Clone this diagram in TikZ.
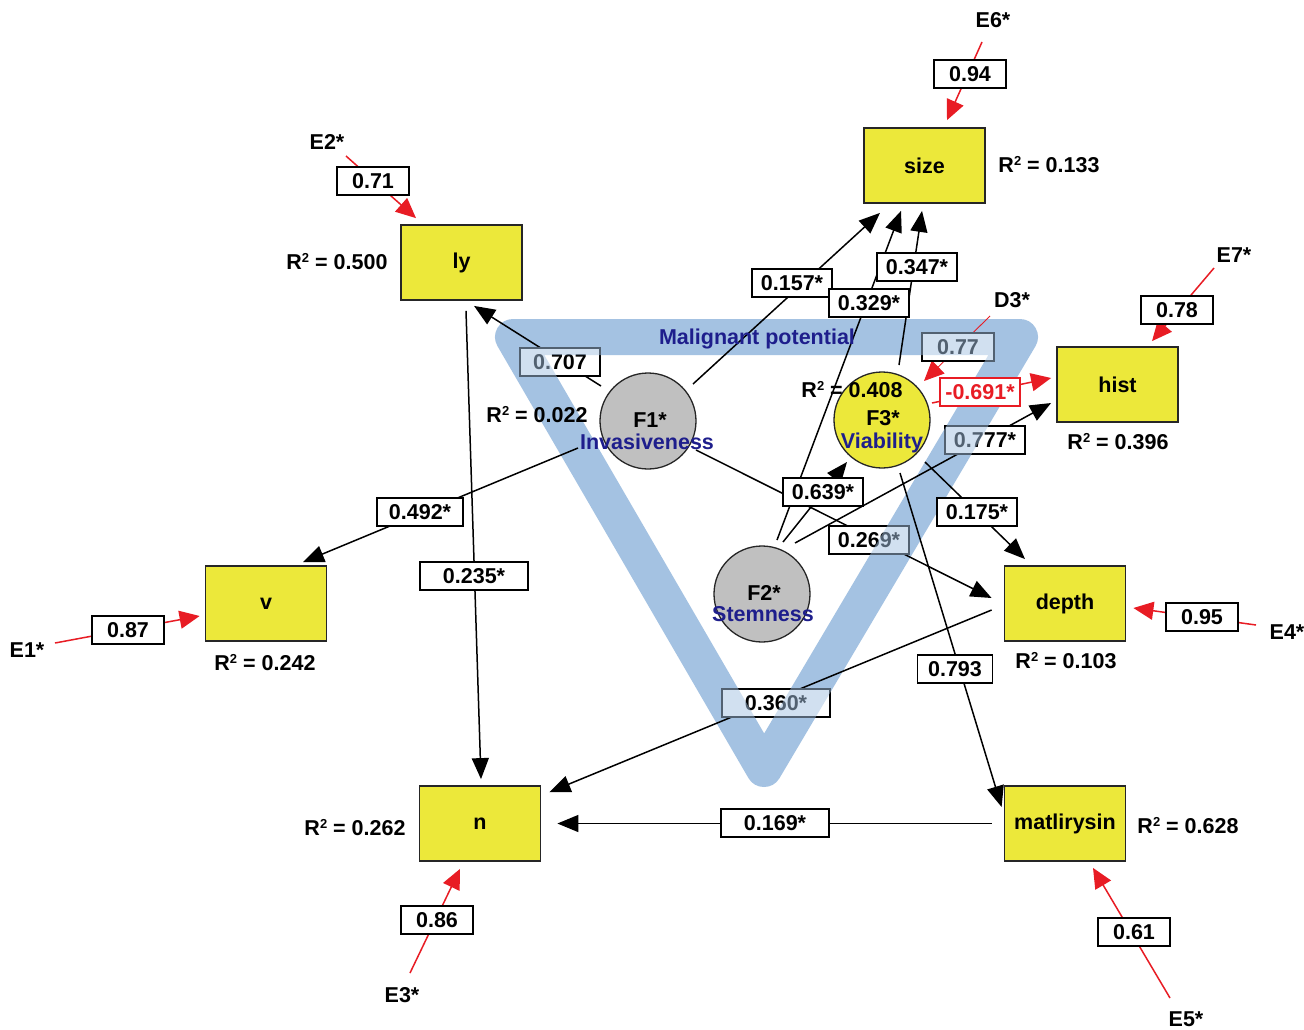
\documentclass[tikz,border=0pt]{standalone}
\usepackage{fontspec}
\setmainfont{Liberation Sans}
\usetikzlibrary{arrows.meta,calc}
\definecolor{yel}{RGB}{236,232,58}
\definecolor{bandblue}{RGB}{164,194,226}
\definecolor{navy}{RGB}{30,30,140}
\definecolor{myred}{RGB}{232,28,36}
\definecolor{circgray}{RGB}{192,192,192}
\newcommand{\rsq}{R\raisebox{7pt}{\fontsize{13}{13}\selectfont 2}}
\begin{document}
\begin{tikzpicture}[x=1pt,y=-1pt,
  every node/.style={font=\fontsize{21.5}{24}\selectfont\bfseries},
  var/.style={draw=black!85, fill=yel, line width=1.8pt, minimum width=121pt, minimum height=75pt, inner sep=0pt},
  fac/.style={circle, draw=black!85, line width=1.3pt, minimum size=96pt, inner sep=0pt},
  lbl/.style={draw, fill=white, line width=1.6pt, minimum height=28pt, minimum width=80pt, inner sep=2pt},
  lblw/.style={lbl, minimum width=108pt},
  lbls/.style={lbl, minimum width=72pt},
  lnk/.style={line width=1.5pt, -{Triangle[length=21pt,width=17pt]}},
  err/.style={myred, line width=1.5pt, -{Triangle[length=20pt,width=18pt]}},
  band/.style={draw=bandblue, line width=36pt, line join=round},
  txt/.style={inner sep=0pt}
]
\fill[white] (0,0) rectangle (1304,1029);
\useasboundingbox (0,0) rectangle (1304,1029);

% malignant potential band
\draw[band] (513,337) -- (1020,337) -- (764,769) -- cycle;

% observed variables
\node[var] (size) at (924.5,165.5) {size};
\node[var] (ly) at (461.5,262.5) {ly};
\node[var] (hist) at (1117.5,384.5) {hist};
\node[var] (v) at (266,603.5) {v};
\node[var] (depth) at (1065,603.5) {depth};
\node[var] (n) at (480,823.5) {n};
\node[var] (matl) at (1065,823.5) {matlirysin};

% factors
\node[fac, fill=circgray] (F1) at (648,421) {};
\node[fac, fill=circgray] (F2) at (762,594) {};
\node[fac, fill=yel] (F3) at (882,420) {};
\node[txt] (f1t) at (650,420) {F1*};
\node[txt] (f2t) at (764,593) {F2*};
\node[txt] (f3t) at (883,418) {F3*};

% error terms
\node[txt] (e6) at (993,20) {E6*};
\node[txt] (e2) at (327,142) {E2*};
\node[txt] (e7) at (1234,255) {E7*};
\node[txt] (d3) at (1012,300) {D3*};
\node[txt] (e1) at (27,650) {E1*};
\node[txt] (e4) at (1287,632) {E4*};
\node[txt] (e3) at (402,995) {E3*};
\node[txt] (e5) at (1186,1019) {E5*};

% R^2
\node[txt] (r6) at (1049,165) {\rsq{} = 0.133};
\node[txt] (r2) at (337,262) {\rsq{} = 0.500};
\node[txt] (r7) at (1118,442) {\rsq{} = 0.396};
\node[txt] (rf1) at (537,415) {\rsq{} = 0.022};
\node[txt] (rf3) at (852,390) {\rsq{} = 0.408};
\node[txt] (r1) at (265,663) {\rsq{} = 0.242};
\node[txt] (r4) at (1066,661) {\rsq{} = 0.103};
\node[txt] (r3) at (355,828) {\rsq{} = 0.262};
\node[txt] (r5) at (1188,826) {\rsq{} = 0.628};

% error arrows
\draw[err] ($(e6)+(-11,22)$) -- ($(size.north)+(22.5,-7)$);
\draw[err] ($(e2)+(19,14)$) -- ($(ly.north)+(-45.5,-6)$);
\draw[err] ($(e7)+(-20,13)$) -- ($(hist.north)+(34.5,-5)$);
\draw[err] ($(e1)+(28,-7)$) -- ($(v.west)+(-5,12.5)$);
\draw[err] ($(e4)+(-31,-7)$) -- ($(depth.east)+(7,4.5)$);
\draw[err] ($(e3)+(8,-22)$) -- ($(n.south)+(-20,7)$);
\draw[err] ($(e5)+(-16,-21)$) -- ($(matl.south)+(28,6)$);
\draw[err, line width=0.9pt] ($(d3)+(-22,16)$) -- ($(F3)+(42,-39)$);
\draw[err] ($(F3)+(50,-17)$) -- ($(hist.west)+(-5,-6.5)$);

% structural paths
\draw[lnk] ($(F1)+(-47,-35)$) -- ($(ly.south)+(12.5,5)$);
\draw[lnk] ($(F1)+(45,-37)$) -- ($(size.south)+(-44.5,9)$);
\draw[lnk] ($(F2)+(15,-54)$) -- ($(size.south)+(-23.5,7)$);
\draw[lnk] ($(F3)+(17,-55)$) -- ($(size.south)+(-2.5,7)$);
\draw[lnk] ($(F2)+(21,-52)$) -- ($(F3)+(-35,42)$);
\draw[lnk] ($(F2)+(33,-51)$) -- ($(hist.west)+(-5,18.5)$);
\draw[lnk] ($(F1)+(48,29)$) -- ($(depth.west)+(-12,-5.5)$);
\draw[lnk] ($(F3)+(43,42)$) -- ($(depth.north)+(-40,-6)$);
\draw[lnk] ($(F3)+(18,53)$) -- ($(matl.west)+(-2,-16.5)$);
\draw[lnk] ($(ly.south)+(4.5,10)$) -- ($(n.north)+(1,-6)$);
\draw[lnk] ($(F1)+(-70,27)$) -- ($(v.north)+(37,-3)$);
\draw[lnk] ($(depth.west)+(-12,6.5)$) -- ($(n.north east)+(8,7)$);
\draw[lnk] ($(matl.west)+(-12,0)$) -- ($(n.east)+(16,0)$);

% coefficient labels
\node[lbls] (l94) at (970,74) {0.94};
\node[lbls] (l71) at (373,181) {0.71};
\node[lbls] (l78) at (1177,310) {0.78};
\node[lbls] (l87) at (128,630) {0.87};
\node[lbls] (l95) at (1202,617) {0.95};
\node[lbls] (l86) at (437,920) {0.86};
\node[lbls] (l61) at (1134,932) {0.61};
\node[lbls] (l77) at (958,347) {0.77};
\node[lbl] (l707) at (560,362) {0.707};
\node[lbl] (l157) at (792,283) {0.157*};
\node[lbl] (l329) at (869,303) {0.329*};
\node[lbl] (l347) at (917,267) {0.347*};
\node[lbl, draw=myred, text=myred, line width=1.2pt] (l691) at (980,392) {-0.691*};
\node[lbl] (l777) at (985,440) {0.777*};
\node[lbl] (l639) at (823,492) {0.639*};
\node[lbl] (l269) at (869,540) {0.269*};
\node[lbl] (l175) at (977,512) {0.175*};
\node[lbl, minimum width=86pt] (l492) at (420,512) {0.492*};
\node[lblw] (l235) at (474,576) {0.235*};
\node[lblw] (l360) at (776,703) {0.360*};
\node[lblw] (l169) at (775,823) {0.169*};
\node[lbl, minimum width=75pt] (l793) at (955,669) {0.793};

% band tint over labels it crosses
\foreach \l in {l707,l77,l777,l269,l360}{
  \begin{scope}
    \clip (\l.south west) rectangle (\l.north east);
    \draw[band, draw opacity=0.5] (513,337) -- (1020,337) -- (764,769) -- cycle;
  \end{scope}
}

% band and factor names
\node[txt, text=navy] (mp) at (757,339) {Malignant potential};
\node[txt, text=navy] (inv) at (647,442) {Invasiveness};
\node[txt, text=navy] (stem) at (763,614) {Stemness};
\node[txt, text=navy] (via) at (882,443) {Viability};
\end{tikzpicture}
\end{document}
